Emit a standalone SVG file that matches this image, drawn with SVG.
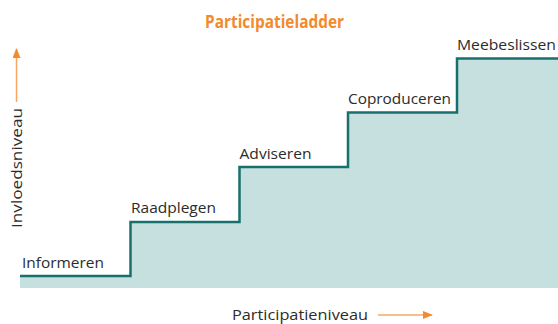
<svg xmlns="http://www.w3.org/2000/svg" width="558" height="324" viewBox="0 0 558 324">
<defs>
<style>
.lbl{font-family:"Open Sans","Noto Sans",sans-serif;font-size:15px;fill:#2b2b2b}
.title{font-family:"Open Sans","Noto Sans",sans-serif;font-size:17px;font-weight:bold;fill:#f28a2e}
.axis{stroke:#f7a763;stroke-width:1.5;fill:none}
.step{fill:none;stroke:#17706c;stroke-width:2.5;stroke-linejoin:miter}
</style>
<marker id="ah" markerWidth="10" markerHeight="8" refX="9" refY="4" orient="auto" markerUnits="userSpaceOnUse">
<path d="M0,0 L10,4 L0,8 Z" fill="#f28a2e"/>
</marker>
</defs>
<rect width="558" height="324" fill="#ffffff"/>
<text class="title" x="274.5" y="27.5" text-anchor="middle" textLength="139" lengthAdjust="spacingAndGlyphs">Participatieladder</text>
<g id="ladder">
<path d="M20,276 L130.5,276 L130.5,222 L239.5,222 L239.5,167 L348,167 L348,112.5 L457,112.5 L457,58.5 L558,58.5 L558,288 L20,288 Z" fill="#c6dfdf"/>
</g>
<g id="connectors">
<path class="step" d="M20,276 L130.5,276 L130.5,222 L239.5,222 L239.5,167 L348,167 L348,112.5 L457,112.5 L457,58.5 L558,58.5"/>
<line class="axis" x1="16.5" y1="102" x2="16.5" y2="49" marker-end="url(#ah)"/>
<line class="axis" x1="378" y1="315" x2="432" y2="315" marker-end="url(#ah)"/>
</g>
<g id="informeren"><text class="lbl" x="22" y="268" textLength="82" lengthAdjust="spacingAndGlyphs">Informeren</text></g>
<g id="raadplegen"><text class="lbl" x="131" y="213" textLength="85" lengthAdjust="spacingAndGlyphs">Raadplegen</text></g>
<g id="adviseren"><text class="lbl" x="239.5" y="159" textLength="72" lengthAdjust="spacingAndGlyphs">Adviseren</text></g>
<g id="coproduceren"><text class="lbl" x="348" y="104" textLength="103" lengthAdjust="spacingAndGlyphs">Coproduceren</text></g>
<g id="meebeslissen"><text class="lbl" x="457" y="50" textLength="99" lengthAdjust="spacingAndGlyphs">Meebeslissen</text></g>
<g id="yaxis-label"><text class="lbl" transform="translate(22,228) rotate(-90)" x="0" y="0" textLength="120" lengthAdjust="spacingAndGlyphs">Invloedsniveau</text></g>
<g id="xaxis-label"><text class="lbl" x="232" y="320" textLength="136" lengthAdjust="spacingAndGlyphs">Participatieniveau</text></g>
</svg>
